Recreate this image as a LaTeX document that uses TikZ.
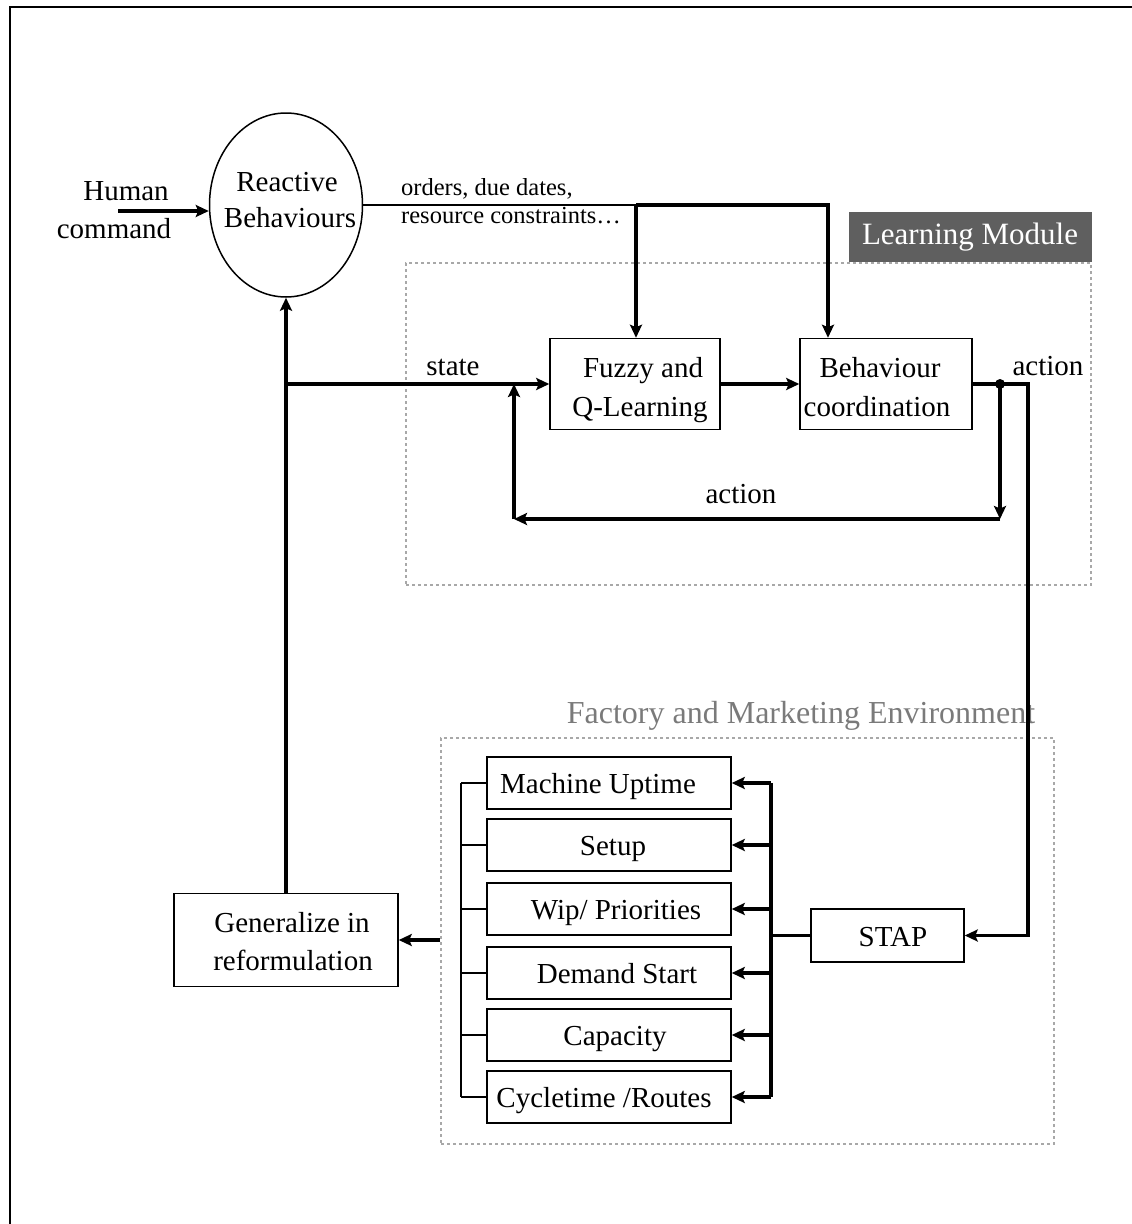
\documentclass[tikz,border=0pt]{standalone}
\usepackage{fontspec}
\setmainfont{Liberation Serif}
\usetikzlibrary{arrows.meta,shapes.geometric}
\definecolor{modfill}{HTML}{5F5F5F}
\definecolor{dashgray}{HTML}{A8A8A8}
\definecolor{labgray}{HTML}{7A7A7A}
\begin{document}
\begin{tikzpicture}[x=1pt,y=-1pt,
  txt/.style={font=\fontsize{29}{36}\selectfont, inner sep=0pt, anchor=base},
  smalltxt/.style={font=\fontsize{24.5}{28}\selectfont, inner sep=0pt, anchor=base west},
  box/.style={draw, line width=1.5pt, inner sep=0pt},
  conn/.style={line width=3.2pt, -{Stealth[length=13pt,width=12pt,inset=2.5pt]}},
  wire/.style={line width=3.2pt},
  thinwire/.style={line width=1.6pt},
  region/.style={draw=dashgray, line width=1.5pt, dash pattern=on 3pt off 3pt, inner sep=0pt},
]
\useasboundingbox (0,0) rectangle (1132,1224);
% page frame (top and left rules)
\draw[line width=2.2pt] (10,1224) -- (10,7) -- (1132,7);

% reactive behaviours and human input
\node[draw, ellipse, line width=1.5pt, minimum width=153pt, minimum height=184pt, inner sep=0pt] (react) at (286,205) {};
\node[txt] (reactA) at (287,191) {Reactive};
\node[txt] (reactB) at (290,227) {Behaviours};
\node[txt] (humA) at (126,200) {Human};
\node[txt] (humB) at (114,238) {command};
\coordinate (hc) at (118,211);
\draw[conn] (hc) -- (hc-|react.west);

% learning module
\node[region, minimum width=685pt, minimum height=322pt] (lm) at (748.5,424) {};
\node[fill=modfill, minimum width=243pt, minimum height=50pt, inner sep=0pt, anchor=south east,
      text=white, font=\fontsize{31}{36}\selectfont] (lmlab) at (lm.north east) {Learning Module};
\node[box, minimum width=170pt, minimum height=91pt] (fuzzy) at (635,384) {};
\node[txt] (fuzzyA) at (643,377) {Fuzzy and};
\node[txt] (fuzzyB) at (640,416) {Q-Learning};
\node[box, minimum width=172pt, minimum height=91pt] (behav) at (886,384) {};
\node[txt] (behavA) at (880,377) {Behaviour};
\node[txt] (behavB) at (877,416) {coordination};

% factory and marketing environment
\node[region, minimum width=613pt, minimum height=406pt] (env) at (747.5,941) {};
\node[txt, text=labgray, font=\fontsize{32}{36}\selectfont] (envlab) at (801,723) {Factory and Marketing Environment};
\node[box, minimum width=244pt, minimum height=52pt] (f1) at (609,783) {};
\node[box, minimum width=244pt, minimum height=52pt] (f2) at (609,845) {};
\node[box, minimum width=244pt, minimum height=52pt] (f3) at (609,909) {};
\node[box, minimum width=244pt, minimum height=52pt] (f4) at (609,973) {};
\node[box, minimum width=244pt, minimum height=52pt] (f5) at (609,1035) {};
\node[box, minimum width=244pt, minimum height=52pt] (f6) at (609,1097) {};
\node[txt] (f1t) at (598,793) {Machine Uptime};
\node[txt] (f2t) at (613,855) {Setup};
\node[txt] (f3t) at (616,919) {Wip/ Priorities};
\node[txt] (f4t) at (617,983) {Demand Start};
\node[txt] (f5t) at (615,1045) {Capacity};
\node[txt] (f6t) at (604,1107) {Cycletime /Routes};
\node[box, minimum width=153pt, minimum height=53pt] (stap) at (887.5,935.5) {};
\node[txt] (stapt) at (893,946) {STAP};

% generalization block
\node[box, minimum width=224pt, minimum height=93pt] (gen) at (286,940) {};
\node[txt] (genA) at (292,932) {Generalize in};
\node[txt] (genB) at (293,970) {reformulation};

% orders feed into the learning module
\coordinate (ja) at (636,205);
\coordinate (jb) at (828,205);
\draw[line width=2.4pt] (react.east) -- (ja);
\draw[conn] (ja) -- (ja|-fuzzy.north);
\draw[conn] (ja) -- (jb) -- (jb|-behav.north);
\node[smalltxt] (ordA) at (401,195) {orders, due dates,};
\node[smalltxt] (ordB) at (401,223) {resource constraints…};

% learning loop
\draw[conn] (fuzzy.east) -- (behav.west);
\coordinate (jr) at (1028,384);
\coordinate (jd) at (1000,384);
\draw[conn] (behav.east) -- (jr) |- (stap.east);
\fill (jd) circle (5pt);
\coordinate (fbr) at (1000,519);
\coordinate (fbl) at (514,519);
\draw[conn] (jd) -- (fbr);
\draw[conn] (fbr) -- (fbl);
\draw[conn] (fbl) -- (fbl|-fuzzy.west);
\coordinate (js) at (gen.north|-fuzzy.west);
\draw[conn] (js) -- (fuzzy.west);
\draw[conn] (gen.north) -- (react.south);
\node[txt] (stateL) at (453,375) {state};
\node[txt] (actL1) at (1048,375) {action};
\node[txt] (actL2) at (741,503) {action};

% distribution bus and collector bracket
\coordinate (bus) at (771,0);
\coordinate (brk) at (461,0);
\draw[wire] (bus|-f1.east) -- (bus|-f6.east);
\draw[thinwire] (brk|-f1.west) -- (brk|-f6.west);
\foreach \n in {f1,f2,f3,f4,f5,f6}{
  \draw[conn] (bus|-\n.east) -- (\n.east);
  \draw[thinwire] (\n.west) -- (brk|-\n.west);
}
\draw[wire] (stap.west) -- (bus|-stap.west);
\draw[conn] (env.west|-gen.east) -- (gen.east);
\end{tikzpicture}
\end{document}
